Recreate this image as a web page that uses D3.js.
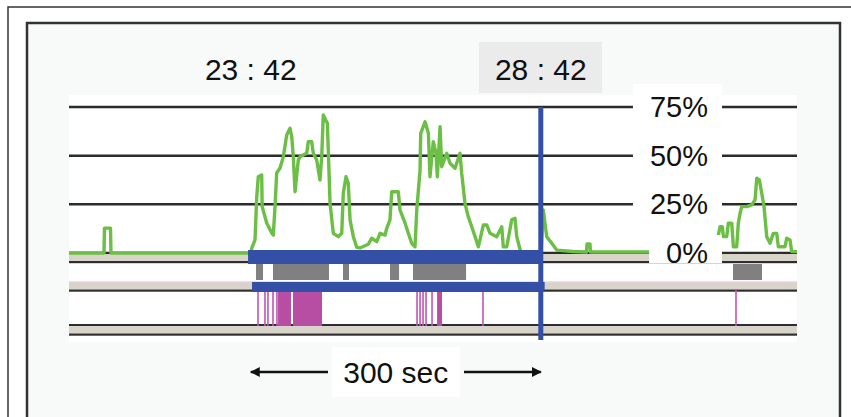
<!DOCTYPE html>
<html><head><meta charset="utf-8">
<script src="https://cdn.jsdelivr.net/npm/d3@7"></script>
<style>html,body{margin:0;padding:0;background:#fff;}svg{display:block;}</style>
</head><body>
<svg id="chart" width="851" height="417"></svg>
<script>
// ---- data (time in seconds from the left edge of the strip chart, values in %) ----
const cpuSeries = [
 [0,0],[36.2,0],[36.7,12.8],[42.9,12.8],[43.4,0],[188.3,0],
 [189,2.4],[192.4,6.7],[194.2,28.9],[195.8,39.2],[199.3,40.1],[199.8,23.8],[202.7,18.6],[204.5,15.4],
 [209.7,10.3],[211.3,9.2],[213.1,23.8],[214.8,41.1],[218.3,43.7],[221.7,49.5],[225.2,60.6],[228.6,64.1],
 [230.4,59.7],[232,49.5],[233.8,31.5],[237.2,47.8],[238.9,49.5],[245.9,51.2],[247.5,57.2],[251,57.2],
 [252.7,51.2],[256.2,47.8],[259.6,37.5],[261.4,49.5],[263,70.9],[267.2,66.6],[268.2,52.9],[270,25.5],
 [273.4,10.1],[278.6,8.4],[282.1,10.1],[283.7,30.7],[286.5,39.2],[288.9,35.8],[290.7,17],[294.1,8.4],
 [297.6,2.9],[301,2.6],[309.6,4.5],[313.1,7.6],[318.3,5.8],[321.7,10.1],[326.9,9.2],[328.6,12.7],
 [332,17],[333.8,31.5],[340.6,31.5],[342.4,22.1],[347.6,15.3],[351,10.1],[354.5,5],[357.9,3.2],
 [359.7,22.1],[363.1,42.6],[363.8,61.5],[368.3,67.4],[371.7,61.5],[373.4,39.2],[376.8,57.2],[379.6,51.2],
 [381,39.2],[383.8,64.9],[385.5,44.3],[390.7,51.2],[394.1,46.1],[399.3,43.5],[404.4,51.2],[406.2,40.9],
 [409.6,25.5],[413,18.6],[416.6,13.5],[420,8.4],[423.4,3.2],[428.6,14.4],[432.1,14.4],[435.5,10.1],
 [442.4,8.4],[447.6,13.5],[449.2,3.2],[452.8,3.2],[457.9,17],[461.3,17.8],[463.1,8.4],[465.8,3.2],
 [467.6,0],[488.2,0],[490.6,22.1],[494.1,8.4],[499.3,5],[504.5,1.5],[521.3,0.8],[535.3,0.5],
 [535.8,4.6],[538.9,4.6],[539.4,0.5],[601,0.5],[668.2,0.5],[673.4,13.5],
 [675.8,13.5],[676.8,8.4],[680.3,8.4],[682,15.3],[685.5,15.3],[687.2,3.2],[690.6,3.2],[692.3,15.3],
 [694.1,20.4],[695.8,23.8],[701,23.8],[706.2,24.7],[709.6,27.2],[711.4,38.4],[714.1,37.5],[716.5,30.7],
 [718.9,23.8],[721.7,8.4],[725.1,5],[728.5,10.1],[732,10.1],[733.7,3.2],[740.6,3.2],[742.4,7.6],
 [745.8,6.7],[747.5,0.7],[753,0.7]
];
const yTicks = [0, 25, 50, 75];
const yTickLabels = ["0%", "25%", "50%", "75%"];
const grayBars = [[193.4,200.7],[211,268.9],[283.4,289.6],[332,341.4],[355.8,410.7],[686.8,716.8]];
const magentaLines = [195.5,202.7,205.8,211,215.1,360,363.1,366.2,369.3,375.5,428.2,689.9];
const magentaBlocks = [[216.2,229.6],[231.7,261.7],[380.7,385.8]];
const blueBars = [[185.2,488],[189.3,492]];
const markerTimes = [188, 488];
const markerLabels = ["23 : 42", "28 : 42"];
const spanLabel = "300 sec";
const timeDomain = [0, 753];

// ---- drawing ----
const svg = d3.select("#chart");
const FONT = "'Liberation Sans', Arial, sans-serif";
const x = d3.scaleLinear().domain(timeDomain).range([69, 797]);
const y = d3.scaleLinear().domain([0, 75]).range([253, 107]);

// frames
svg.append("rect").attr("x",8).attr("y",7).attr("width",900).attr("height",500)
  .attr("fill","#fff").attr("stroke","#333").attr("stroke-width",1.5);
svg.append("rect").attr("x",27).attr("y",23).attr("width",813).attr("height",450)
  .attr("fill","#f8f9f9").attr("stroke","#333").attr("stroke-width",2.5);

// plot background
svg.append("rect").attr("x",x(timeDomain[0])).attr("y",95)
  .attr("width",x(timeDomain[1])-x(timeDomain[0])).attr("height",247).attr("fill","#fff");

const X0 = x(timeDomain[0]), X1 = x(timeDomain[1]);

// gridlines
svg.append("g").selectAll("line").data(yTicks).join("line")
  .attr("x1",X0).attr("x2",X1).attr("y1",d=>y(d)).attr("y2",d=>y(d))
  .attr("stroke","#2b2b2b").attr("stroke-width",2.5);

// track strips
function strip(yTop, pinkTop){
  if(pinkTop) svg.append("rect").attr("x",X0).attr("y",yTop-1).attr("width",X1-X0).attr("height",1.2).attr("fill","#e6b8de");
  svg.append("rect").attr("x",X0).attr("y",yTop).attr("width",X1-X0).attr("height",7).attr("fill","#d9d4ca");
  svg.append("rect").attr("x",X0).attr("y",yTop+7).attr("width",X1-X0).attr("height",2.2).attr("fill","#2e2e2e");
}
strip(254, false);
strip(282.5, true);
svg.append("rect").attr("x",X0).attr("y",324).attr("width",X1-X0).attr("height",2.2).attr("fill","#2e2e2e");
strip(326.5, false);

// gray activity bars
svg.append("g").selectAll("rect").data(grayBars).join("rect")
  .attr("x",d=>x(d[0])).attr("width",d=>x(d[1])-x(d[0]))
  .attr("y",264).attr("height",16).attr("fill","#808080");

// magenta events
svg.append("g").selectAll("rect").data(magentaBlocks).join("rect")
  .attr("x",d=>x(d[0])).attr("width",d=>x(d[1])-x(d[0]))
  .attr("y",289).attr("height",37).attr("fill","#b84ea3");
svg.append("g").selectAll("line").data(magentaLines).join("line")
  .attr("x1",d=>x(d)).attr("x2",d=>x(d)).attr("y1",289).attr("y2",326)
  .attr("stroke","#c354b4").attr("stroke-width",1.6);

// green line
svg.append("path").datum(cpuSeries)
  .attr("d", d3.line().x(d=>x(d[0])).y(d=>y(d[1])))
  .attr("fill","none").attr("stroke","#6cbf45").attr("stroke-width",3.4).attr("stroke-linejoin","round");

// blue selection bars
svg.append("rect").attr("x",x(blueBars[0][0])).attr("y",250)
  .attr("width",x(blueBars[0][1])-x(blueBars[0][0])).attr("height",14).attr("fill","#3450a6");
svg.append("rect").attr("x",x(blueBars[1][0])).attr("y",282)
  .attr("width",x(blueBars[1][1])-x(blueBars[1][0])).attr("height",10).attr("fill","#3450a6");
svg.append("rect").attr("x",x(markerTimes[1])-2.5).attr("y",107).attr("width",5).attr("height",233).attr("fill","#3450a6");

// y-labels with white boxes
const labelRight = 708;
yTicks.forEach((t,i)=>{
  const txt = svg.append("text").attr("x",labelRight).attr("y",y(t)+10)
    .attr("text-anchor","end").attr("font-family",FONT).attr("font-size",29)
    .attr("fill","#111").text(yTickLabels[i]);
  const w = txt.node().getComputedTextLength();
  const top = i===3 ? 84 : y(t)-18;
  const bottom = i===0 ? y(t)+10 : y(t)+16;
  svg.insert("rect", "text").attr("x",labelRight-w-17).attr("y",top)
    .attr("width",722-(labelRight-w-17)).attr("height",bottom-top).attr("fill","#fff");
});

// time labels
svg.append("rect").attr("x",479).attr("y",42).attr("width",123).attr("height",51).attr("fill","#ebebeb");
svg.selectAll(".tl").data(markerTimes).join("text").attr("class","tl")
  .attr("x",d=>x(d)).attr("y",80).attr("text-anchor","middle")
  .attr("font-family",FONT).attr("font-size",30).attr("fill","#111")
  .text((d,i)=>markerLabels[i]);

// span annotation
const ax0 = x(markerTimes[0]), ax1 = x(markerTimes[1]), ay = 372;
svg.append("defs").append("marker").attr("id","ah").attr("viewBox","0 0 10 10")
  .attr("refX",9).attr("refY",5).attr("markerWidth",4).attr("markerHeight",4).attr("orient","auto")
  .append("path").attr("d","M0,0 L10,5 L0,10 z").attr("fill","#111");
svg.append("line").attr("x1",328).attr("x2",ax0).attr("y1",ay).attr("y2",ay)
  .attr("stroke","#111").attr("stroke-width",2.5).attr("marker-end","url(#ah)");
svg.append("line").attr("x1",464).attr("x2",ax1).attr("y1",ay).attr("y2",ay)
  .attr("stroke","#111").attr("stroke-width",2.5).attr("marker-end","url(#ah)");
svg.append("rect").attr("x",332).attr("y",347).attr("width",128).attr("height",50).attr("fill","#fff");
svg.append("text").attr("x",(ax0+ax1)/2).attr("y",383).attr("text-anchor","middle")
  .attr("font-family",FONT).attr("font-size",30).attr("fill","#111").text(spanLabel);
</script>
</body></html>
